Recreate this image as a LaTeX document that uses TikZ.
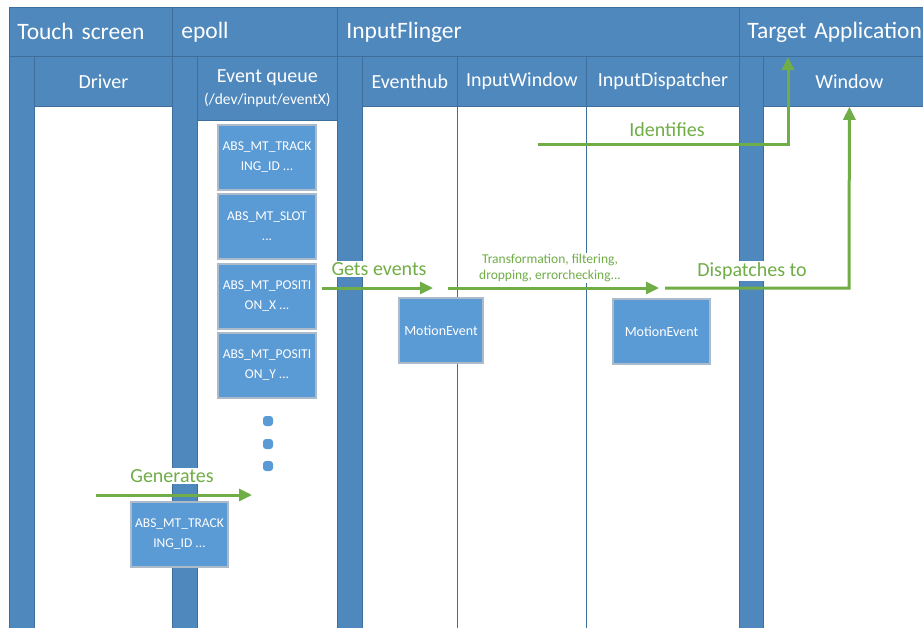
\documentclass[tikz,border=0pt]{standalone}
\usepackage{fontspec}
\setmainfont{Carlito}
\usetikzlibrary{arrows.meta}
\definecolor{pool}{RGB}{79,136,189}
\definecolor{poolborder}{RGB}{62,110,155}
\definecolor{boxfill}{RGB}{91,155,213}
\definecolor{boxborder}{RGB}{172,186,202}
\definecolor{flow}{RGB}{112,173,71}
\begin{document}
\begin{tikzpicture}[x=1pt,y=-1pt,
  hdrtop/.style={draw=poolborder, fill=pool, line width=0.8pt, text=white, anchor=north west,
    minimum height=49pt, inner xsep=8pt, inner ysep=0pt, align=left,
    font=\fontsize{23.5}{28}\selectfont},
  hdrlane/.style={draw=poolborder, fill=pool, line width=0.8pt, text=white, anchor=north west,
    minimum height=50pt, inner sep=0pt, align=center,
    font=\fontsize{20}{23}\selectfont},
  strip/.style={draw=poolborder, fill=pool, line width=0.8pt},
  sep/.style={draw=poolborder, line width=1pt},
  evbox/.style={draw=boxborder, fill=boxfill, line width=1.2pt, text=white, align=center,
    minimum width=98pt, minimum height=65pt, inner sep=0pt,
    font=\fontsize{13.5}{20}\selectfont},
  dotbox/.style={fill=boxfill, minimum width=10pt, minimum height=10pt, inner sep=0pt, rounded corners=3pt},
  lbl/.style={fill=white, text=flow, inner sep=1pt, align=center, font=\fontsize{20}{24}\selectfont},
  lblsmall/.style={fill=white, text=flow, inner sep=1pt, align=center, font=\fontsize{13.5}{16}\selectfont},
  flowarrow/.style={draw=flow, line width=3pt, -{Triangle[length=13pt,width=12pt]}},
  flowline/.style={draw=flow, line width=3pt}
]
\useasboundingbox (0,0) rectangle (923,627);
\clip (0,0) rectangle (923,627);
\fill[white] (0,0) rectangle (923,627);

% vertical strips and lane separators
\draw[strip] (9,56) rectangle (34,640);
\draw[strip] (172,56) rectangle (197,640);
\draw[strip] (337,56) rectangle (362,640);
\draw[strip] (739,56) rectangle (763,640);
\draw[sep] (457,106) -- (457,640);
\draw[sep] (586,106) -- (586,640);

% top header row
\node[hdrtop, text width=147pt] (ts) at (9,7) {Touch screen};
\node[hdrtop, inner xsep=9pt, text width=147pt] (ep) at (172,7) {epoll};
\node[hdrtop, inner xsep=9pt, text width=384pt] (inf) at (337,7) {InputFlinger};
\node[hdrtop, text width=190pt] (ta) at (739,7) {Target Application};

% lane header row
\node[hdrlane, minimum width=138pt] (drv) at (34,56) {Driver};
\node[hdrlane, minimum width=140pt, minimum height=64pt] (evq) at (197,56)
  {Event queue\\[-1pt]{\fontsize{15.5}{19}\selectfont (/dev/input/eventX)}};
\node[hdrlane, minimum width=95pt] (evh) at (362,56) {Eventhub};
\node[hdrlane, minimum width=129pt] (inw) at (457,56) {InputWindow};
\node[hdrlane, minimum width=153pt] (ind) at (586,56) {InputDispatcher};
\node[hdrlane, minimum width=172pt] (win) at (763,56) {Window};

% event queue boxes
\node[evbox] (e1) at (267,157.5) {ABS\_MT\_TRACK\\ING\_ID ...};
\node[evbox] (e2) at (267,226.5) {ABS\_MT\_SLOT\\...};
\node[evbox] (e3) at (267,296.5) {ABS\_MT\_POSITI\\ON\_X ...};
\node[evbox] (e4) at (267,365.5) {ABS\_MT\_POSITI\\ON\_Y ...};
\node[dotbox] (d1) at (268,421) {};
\node[dotbox] (d2) at (268,444) {};
\node[dotbox] (d3) at (268,466) {};

% labels (white background)
\node[lbl] (lgen) at (172,476) {Generates};
\node[lbl] (lget) at (379,269) {Gets events};
\node[lblsmall] (ltr) at (550,268) {Transformation, filtering,\\dropping, errorchecking...};
\node[lbl] (ldis) at (752,271) {Dispatches to};
\node[lbl] (lid) at (667,130) {Identifies};

% free ends of connectors
\coordinate (gs) at (96,495);
\coordinate (ge) at (252,495);
\coordinate (gts) at (322,288);
\coordinate (gte) at (433,288);
\coordinate (trs) at (448,288);
\coordinate (tre) at (659,288);
\coordinate (dss) at (665,288);
\coordinate (dsc) at (849,288);
\coordinate (ids) at (538,144);
\coordinate (idc) at (788,144);
\coordinate (ide) at (788,57);

% connectors
\draw[flowarrow] (gs) -- (ge);
\draw[flowarrow] (gts) -- (gte);
\draw[flowarrow] (trs) -- (tre);
\draw[flowarrow] (dss) -- (dsc) -- (win.south);
\draw[flowarrow] (ids) -- (idc) -- (ide);

% boxes drawn on top
\node[evbox, minimum width=97pt] (g1) at (179.5,534.5) {ABS\_MT\_TRACK\\ING\_ID ...};
\node[evbox, minimum width=84pt, font=\fontsize{14}{20}\selectfont] (m1) at (441,330.5) {MotionEvent};
\node[evbox, minimum width=97pt, font=\fontsize{14}{20}\selectfont] (m2) at (661.5,331.5) {MotionEvent};
\end{tikzpicture}
\end{document}
